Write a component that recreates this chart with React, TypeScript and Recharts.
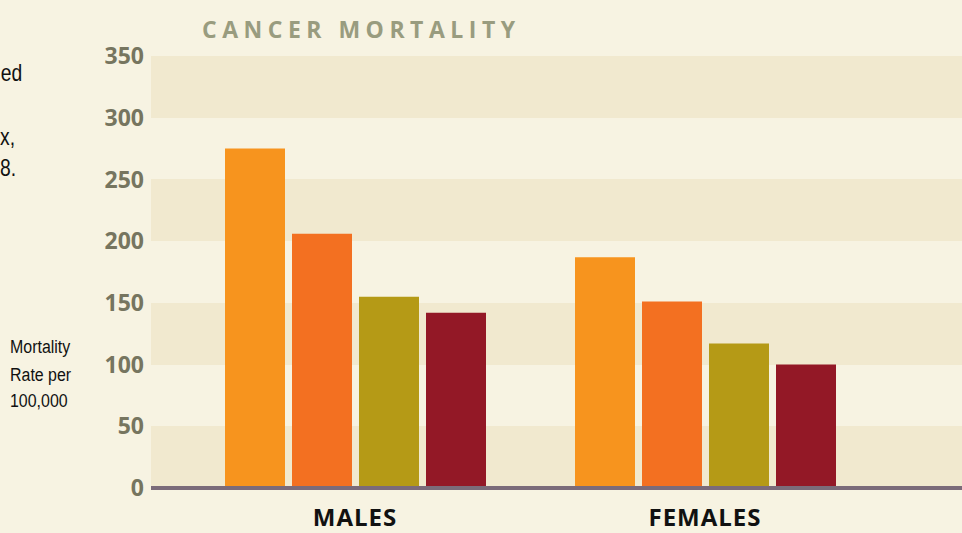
import React from "react";
import { BarChart, Bar, XAxis, YAxis, CartesianGrid } from "recharts";

const categories = ["MALES", "FEMALES"];
const seriesA = [275, 187];
const seriesB = [206, 151];
const seriesC = [155, 117];
const seriesD = [142, 100];
const yTicks = [0, 50, 100, 150, 200, 250, 300, 350];

const data = categories.map((name, i) => ({
    name,
    a: seriesA[i],
    b: seriesB[i],
    c: seriesC[i],
    d: seriesD[i]
}));

const BG = "#f7f3e2";
const BAND = "#f1e9cf";
const NARROW = 0.84;

function SexTick({ x, y, payload }) {
    return (
        <text
            x={x}
            y={y}
            dy={30}
            textAnchor="middle"
            fontFamily="'Open Sans', sans-serif"
            fontWeight={700}
            fontSize={24}
            letterSpacing={1}
            fill="#111"
        >
            {payload.value}
        </text>
    );
}

export default function App() {
    return (
        <div style={{ position: "absolute", left: 0, top: 0, width: 962, height: 533, background: BG, overflow: "hidden" }}>
            <BarChart
                width={962}
                height={533}
                data={data}
                margin={{ top: 56, right: 0, bottom: 0, left: 0 }}
                barSize={60}
                barGap={7}
            >
                <CartesianGrid
                    vertical={false}
                    stroke="none"
                    horizontalFill={[BAND, BG]}
                    fillOpacity={1}
                />
                <XAxis
                    dataKey="name"
                    height={45}
                    padding={{ left: 29, right: 82 }}
                    axisLine={{ stroke: "#7b6b79", strokeWidth: 4 }}
                    tickLine={false}
                    tick={<SexTick />}
                />
                <YAxis
                    width={151}
                    domain={[0, 350]}
                    ticks={yTicks}
                    axisLine={false}
                    tickLine={false}
                    tickMargin={1}
                    tick={{ fill: "#76755f", fontSize: 23, fontWeight: 700, fontFamily: "'Open Sans', sans-serif" }}
                />
                <Bar dataKey="a" fill="#f7941e" isAnimationActive={false} />
                <Bar dataKey="b" fill="#f37021" isAnimationActive={false} />
                <Bar dataKey="c" fill="#b59a16" isAnimationActive={false} />
                <Bar dataKey="d" fill="#931826" isAnimationActive={false} />
            </BarChart>
            <svg width={962} height={533} style={{ position: "absolute", left: 0, top: 0, pointerEvents: "none" }}>
                <text x={202} y={38} fontFamily="'Open Sans', sans-serif" fontWeight={700} fontSize={23} letterSpacing={5.5} fill="#999c7f">
                    CANCER MORTALITY
                </text>
                <g transform={`scale(${NARROW},1)`} fontFamily="'Liberation Sans', Arial, sans-serif" fill="#111">
                    <text x={1} y={81} fontSize={23}>ed</text>
                    <text x={0} y={145} fontSize={23}>x,</text>
                    <text x={0} y={176} fontSize={23}>8.</text>
                    <text x={10 / NARROW} y={353} fontSize={19}>Mortality</text>
                    <text x={10 / NARROW} y={381} fontSize={19}>Rate per</text>
                    <text x={10 / NARROW} y={407} fontSize={19}>100,000</text>
                </g>
            </svg>
        </div>
    );
}
